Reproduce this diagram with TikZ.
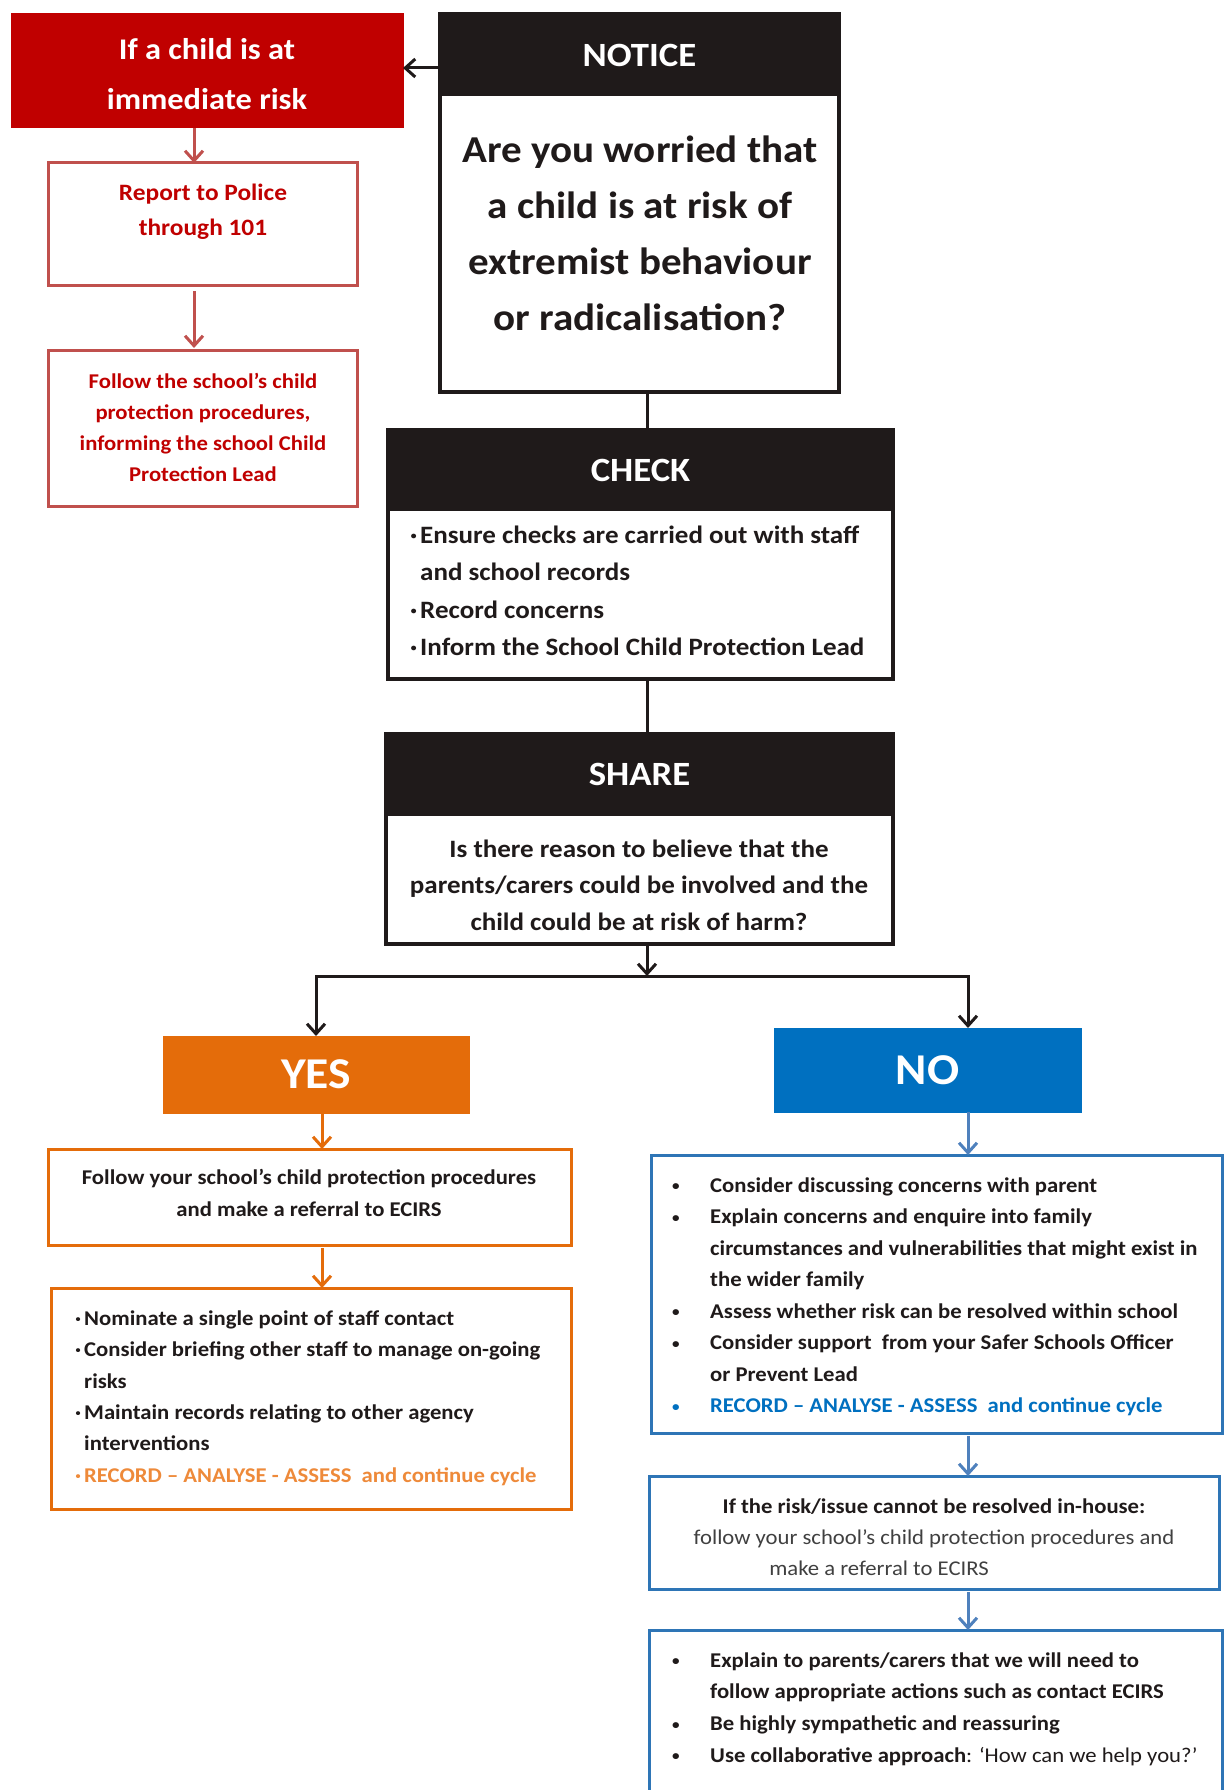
\documentclass[tikz,border=0pt]{standalone}
\usepackage{fontspec}
\setmainfont{Carlito}[FakeStretch=1.08]
\usetikzlibrary{arrows.meta}
\definecolor{cRed}{HTML}{C00000}
\definecolor{cRedLine}{HTML}{C0504D}
\definecolor{cOrange}{HTML}{E46C0A}
\definecolor{cOrangeTxt}{HTML}{EE8A3A}
\definecolor{cBlue}{HTML}{0070C0}
\definecolor{cBlueLine}{HTML}{2E75B6}
\definecolor{cBlueArr}{HTML}{4F81BD}
\definecolor{cBlack}{HTML}{1F1A1A}
\definecolor{cGrey}{HTML}{404040}
\newcommand{\smb}{\makebox[38pt][l]{\raisebox{1.5pt}{\fontsize{14}{14}\selectfont •}}}
\begin{document}
\begin{tikzpicture}[x=1pt,y=-1pt,
  mybox/.style={rectangle, inner sep=0pt, outer sep=0pt, anchor=north west},
  blackbox/.style={mybox, draw=cBlack, line width=3.5pt},
  headfill/.style={mybox, fill=cBlack, draw=cBlack, line width=1pt, text=white, font=\bfseries\fontsize{34}{40}\selectfont},
  redsolid/.style={mybox, fill=cRed, draw=cRed, line width=1pt},
  redbox/.style={mybox, draw=cRedLine, line width=3pt},
  orangesolid/.style={mybox, fill=cOrange, draw=cOrange, line width=1pt},
  orangebox/.style={mybox, draw=cOrange, line width=3pt},
  bluesolid/.style={mybox, fill=cBlue, draw=cBlue, line width=1pt},
  bluebox/.style={mybox, draw=cBlueLine, line width=3pt},
  txt/.style={inner sep=0pt, text=cBlack},
  link/.style={line width=3pt, draw=cBlack},
  arr/.style={link, -{Straight Barb[length=10pt,width=18pt]}},
  redarr/.style={arr, draw=cRedLine},
  orangearr/.style={arr, draw=cOrange},
  bluearr/.style={arr, draw=cBlueArr}
]
\useasboundingbox (0,0) rectangle (1224,1790);
\fill[white] (0,0) rectangle (1224,1790);

\coordinate (yr) at (0,68);
\coordinate (xr) at (194,0);
\coordinate (xc) at (647,0);
\coordinate (xo) at (322,0);
\coordinate (xn) at (968,0);
\coordinate (split) at (647,976);

% ---------- red column ----------
\node[redsolid, minimum width=392pt, minimum height=114pt] (risk) at (11,14) {};
\node[txt, text=white, align=center, font=\bfseries\fontsize{30}{50}\selectfont] at (207,74) {If a child is at\\immediate risk};

\node[redbox, minimum width=309pt, minimum height=122pt] (police) at (48,163) {};
\node[txt, text=cRed, align=center, font=\bfseries\fontsize{23.5}{35}\selectfont] at (203,212) {Report to Police\\through 101};

\node[redbox, minimum width=309pt, minimum height=156pt] (schoolcp) at (48,350) {};
\node[txt, text=cRed, align=center, font=\bfseries\fontsize{21}{31}\selectfont] at (203,427) {Follow the school’s child\\protection procedures,\\informing the school Child\\Protection Lead};

% ---------- NOTICE ----------
\node[headfill, minimum width=399pt, minimum height=82pt] (noticehead) at (440,14) {NOTICE};
\node[blackbox, minimum width=399pt, minimum height=378pt] (notice) at (440,14) {};
\node[txt, align=center, font=\bfseries\fontsize{38}{56}\selectfont] at (640,233) {Are you worried that\\a child is at risk of\\extremist behaviour\\or radicalisation?};

% ---------- CHECK ----------
\node[headfill, minimum width=505pt, minimum height=80pt] (checkhead) at (388,430) {CHECK};
\node[blackbox, minimum width=505pt, minimum height=249pt] (check) at (388,430) {};
\node[txt, anchor=west, align=left, font=\bfseries\fontsize{25}{37.5}\selectfont] at (410,591)
 {\makebox[10pt][l]{·}Ensure checks are carried out with staff\\
  \hspace*{10pt}and school records\\
  \makebox[10pt][l]{·}Record concerns\\
  \makebox[10pt][l]{·}Inform the School Child Protection Lead};

% ---------- SHARE ----------
\node[headfill, minimum width=507pt, minimum height=81pt] (sharehead) at (386,734) {SHARE};
\node[blackbox, minimum width=507pt, minimum height=210pt] (share) at (386,734) {};
\node[txt, align=center, font=\bfseries\fontsize{25}{36.5}\selectfont] at (639,885)
 {Is there reason to believe that the\\parents/carers could be involved and the\\child could be at risk of harm?};

% ---------- YES branch ----------
\node[orangesolid, minimum width=306pt, minimum height=77pt, text=white, font=\bfseries\fontsize{44}{50}\selectfont] (yes) at (163,1036) {YES};

\node[orangebox, minimum width=523pt, minimum height=96pt] (yesrefer) at (48,1149) {};
\node[txt, align=center, font=\bfseries\fontsize{21}{32}\selectfont] at (309,1193)
 {Follow your school’s child protection procedures\\and make a referral to ECIRS};

\node[orangebox, minimum width=520pt, minimum height=221pt] (yesacts) at (51,1288) {};
\node[txt, anchor=west, align=left, font=\bfseries\fontsize{21}{31.4}\selectfont] at (75,1398)
 {\makebox[9pt][l]{·}Nominate a single point of staff contact\\
  \makebox[9pt][l]{·}Consider briefing other staff to manage on-going\\
  \hspace*{9pt}risks\\
  \makebox[9pt][l]{·}Maintain records relating to other agency\\
  \hspace*{9pt}interventions\\
  \textcolor{cOrangeTxt}{\makebox[9pt][l]{·}RECORD – ANALYSE - ASSESS\ \ and continue cycle}};

% ---------- NO branch ----------
\node[bluesolid, minimum width=307pt, minimum height=84pt, text=white, font=\bfseries\fontsize{44}{50}\selectfont] (no) at (774,1028) {NO};

\node[bluebox, minimum width=571pt, minimum height=278pt] (noacts) at (651,1155) {};
\node[txt, anchor=west, align=left, font=\bfseries\fontsize{21}{31.5}\selectfont] at (672,1297)
 {\smb Consider discussing concerns with parent\\
  \smb Explain concerns and enquire into family\\
  \hspace*{38pt}circumstances and vulnerabilities that might exist in\\
  \hspace*{38pt}the wider family\\
  \smb Assess whether risk can be resolved within school\\
  \smb Consider support\ \ from your Safer Schools Officer\\
  \hspace*{38pt}or Prevent Lead\\
  \textcolor{cBlue}{\smb RECORD – ANALYSE - ASSESS\ \ and continue cycle}};

\node[bluebox, minimum width=570pt, minimum height=113pt] (inhouse) at (649,1476) {};
\node[txt, align=center, font=\fontsize{21}{31}\selectfont, text=cGrey] at (934,1537)
 {\textbf{\textcolor{cBlack}{If the risk/issue cannot be resolved in-house:}}\\
  follow your school’s child protection procedures and\\
  make a referral to ECIRS\rule{110pt}{0pt}};

\node[mybox, minimum width=573pt, minimum height=160pt] (explain) at (649,1630) {};
\draw[line width=3pt, cBlueLine] (explain.south west) |- (explain.north east) -- (explain.south east);
\node[txt, anchor=west, align=left, font=\bfseries\fontsize{21}{31.7}\selectfont] at (672,1709)
 {\smb Explain to parents/carers that we will need to\\
  \hspace*{38pt}follow appropriate actions such as contact ECIRS\\
  \smb Be highly sympathetic and reassuring\\
  \smb Use collaborative approach\mdseries: ‘How can we help you?’};

% ---------- connectors ----------
\draw[arr] (notice.west |- yr) -- (risk.east |- yr);
\draw[redarr] (xr |- risk.south) -- (xr |- police.north);
\draw[redarr] ([yshift=-6pt]xr |- police.south) -- ([yshift=2pt]xr |- schoolcp.north);
\draw[link] (xc |- notice.south) -- (xc |- check.north);
\draw[link] (xc |- check.south) -- (xc |- share.north);
\draw[arr] (xc |- share.south) -- (split);
\draw[arr] (split) -| (yes.north);
\draw[arr] (split) -| (xn |- no.north);
\draw[orangearr] (xo |- yes.south) -- (xo |- yesrefer.north);
\draw[orangearr] ([yshift=-3pt]xo |- yesrefer.south) -- (xo |- yesacts.north);
\draw[bluearr] (xn |- no.south) -- (xn |- noacts.north);
\draw[bluearr] ([yshift=-3pt]xn |- noacts.south) -- (xn |- inhouse.north);
\draw[bluearr] ([yshift=-3pt]xn |- inhouse.south) -- (xn |- explain.north);
\end{tikzpicture}
\end{document}
